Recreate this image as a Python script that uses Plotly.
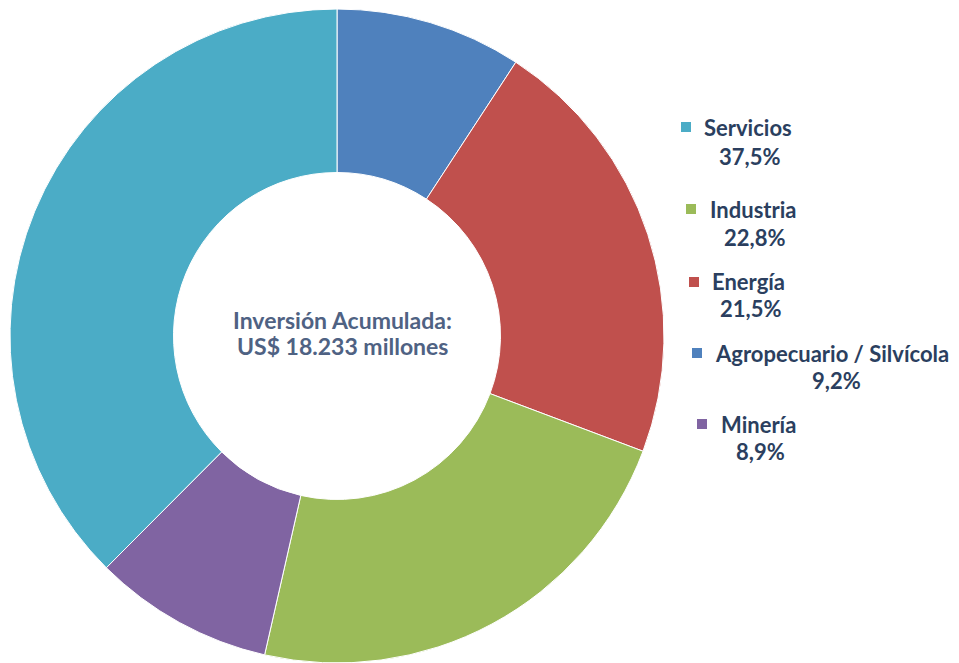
import plotly.graph_objects as go

# Sectores en el orden del anillo (horario, desde las 12)
sectores = ["Agropecuario / Silvícola", "Energía", "Industria", "Minería", "Servicios"]
porcentajes = [9.2, 21.5, 22.8, 8.9, 37.5]
colores = ["#4F81BD", "#C0504D", "#9BBB59", "#8064A2", "#4BACC6"]

# Orden de la leyenda
orden_leyenda = ["Servicios", "Industria", "Energía", "Agropecuario / Silvícola", "Minería"]
etiquetas_pct = {s: f"{p:.1f}".replace(".", ",") + "%" for s, p in zip(sectores, porcentajes)}
color_de = dict(zip(sectores, colores))

texto_centro = ["Inversión Acumulada:", "US$ 18.233 millones"]

# la página tiene 8px de margen en el body
OFF = 8
W, H = 959 - OFF, 663 - OFF
FUENTE = "Lato"
COLOR_TXT = "#2B3F5F"


def px(x):
    return (x - OFF) / W


def py(y):
    return 1 - (y - OFF) / H


fig = go.Figure(go.Pie(
    labels=sectores,
    values=porcentajes,
    hole=0.5,
    sort=False,
    direction="clockwise",
    rotation=0,
    marker=dict(colors=colores, line=dict(color="white", width=1)),
    textinfo="none",
    hoverinfo="label+percent",
    showlegend=False,
    domain=dict(x=[px(8), px(666)], y=[py(663), py(9)]),
))

anotaciones = []
formas = []
# leyenda manual: cuadro, nombre y porcentaje centrado debajo
pos = {
    "Servicios": (681, 122, 702, 128, 749, 156),
    "Industria": (686, 204, 708, 209, 754, 237),
    "Energía": (689, 277, 710, 281, 750, 308),
    "Agropecuario / Silvícola": (692, 348, 713, 353, 836, 380),
    "Minería": (697, 419, 719, 424, 760, 452),
}
for s in orden_leyenda:
    xq, yq, xt, yn, xp, yp = pos[s]
    formas.append(dict(
        type="rect", xref="paper", yref="paper",
        x0=px(xq), x1=px(xq + 10), y0=py(yq + 10), y1=py(yq),
        fillcolor=color_de[s], line=dict(width=0),
    ))
    anotaciones.append(dict(
        x=px(xt), y=py(yn), xref="paper", yref="paper",
        text=f"<b>{s}</b>", showarrow=False, xanchor="left", yanchor="middle",
        font=dict(family=FUENTE, size=22, color=COLOR_TXT),
    ))
    anotaciones.append(dict(
        x=px(xp), y=py(yp), xref="paper", yref="paper",
        text=f"<b>{etiquetas_pct[s]}</b>", showarrow=False, xanchor="center", yanchor="middle",
        font=dict(family=FUENTE, size=22, color=COLOR_TXT),
    ))

for linea, yl in zip(texto_centro, [320, 346]):
    anotaciones.append(dict(
        x=px(342), y=py(yl), xref="paper", yref="paper",
        text=f"<b>{linea}</b>", showarrow=False, xanchor="center", yanchor="middle",
        font=dict(family=FUENTE, size=23, color="#4F6283"),
    ))

fig.update_layout(
    width=W, height=H,
    margin=dict(l=0, r=0, t=0, b=0),
    paper_bgcolor="white",
    plot_bgcolor="white",
    annotations=anotaciones,
    shapes=formas,
)

fig.write_html("out.html")
